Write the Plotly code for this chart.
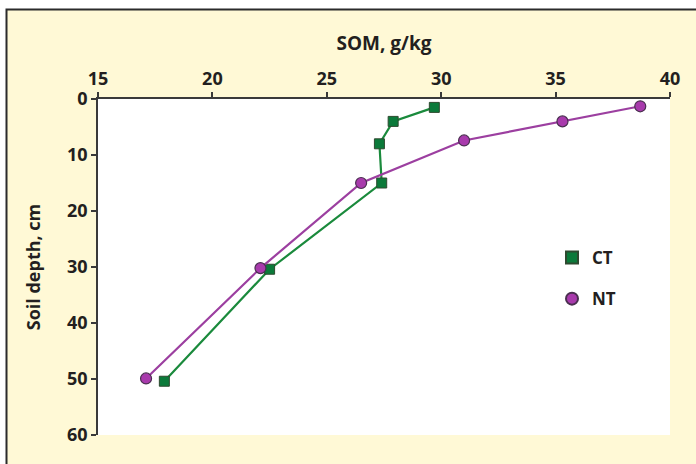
import plotly.graph_objects as go

ct_som = [29.7, 27.9, 27.3, 27.4, 22.5, 17.9]
ct_depth = [1.5, 4, 8, 15, 30.4, 50.4]
nt_som = [38.7, 35.3, 31.0, 26.5, 22.1, 17.1]
nt_depth = [1.3, 4, 7.4, 15, 30.2, 49.9]

x_ticks = [15, 20, 25, 30, 35, 40]
y_ticks = [0, 10, 20, 30, 40, 50, 60]

W, H = 696, 464
ml, mr, mt, mb = 98, 26, 99, 29
pw, ph = W - ml - mr, H - mt - mb

ct_color = "#1a8a3c"
ct_fill = "#0b7a3a"
nt_color = "#9c3fa0"
nt_fill = "#a83aac"

fig = go.Figure()
fig.add_trace(go.Scatter(
    x=ct_som, y=ct_depth, name="CT", mode="lines+markers", showlegend=False,
    line=dict(color=ct_color, width=2.2),
    marker=dict(symbol="square", size=10, color=ct_fill, line=dict(color="#2e4a30", width=1)),
))
fig.add_trace(go.Scatter(
    x=nt_som, y=nt_depth, name="NT", mode="lines+markers", showlegend=False,
    line=dict(color=nt_color, width=2.2),
    marker=dict(symbol="circle", size=11, color=nt_fill, line=dict(color="#4a3050", width=1.2)),
))
# legend entries (markers only)
fig.add_trace(go.Scatter(
    x=[None], y=[None], name="CT", mode="markers", legendgroup="ct",
    marker=dict(symbol="square", size=10, color=ct_fill, line=dict(color="#2e4a30", width=1)),
))
fig.add_trace(go.Scatter(
    x=[None], y=[None], name="NT", mode="markers", legendgroup="nt",
    marker=dict(symbol="circle", size=11, color=nt_fill, line=dict(color="#4a3050", width=1.2)),
))

font_fam = "Open Sans, Lato, sans-serif"

def px_x(p):
    return (p - ml) / pw

def px_y(p):
    return (H - mb - p) / ph

fig.update_layout(
    width=W, height=H,
    margin=dict(l=ml, r=mr, t=mt, b=mb),
    paper_bgcolor="white",
    plot_bgcolor="white",
    font=dict(family=font_fam, color="#231f20"),
    showlegend=True,
    legend=dict(
        x=px_x(552), y=px_y(240), xanchor="left", yanchor="top",
        bgcolor="rgba(0,0,0,0)", font=dict(size=17, family=font_fam, color="#231f20", weight="bold"),
        itemsizing="constant", tracegroupgap=16, itemwidth=30,
    ),
    xaxis=dict(
        range=[15, 40], side="top", tickvals=x_ticks,
        showgrid=False, zeroline=False,
        showline=True, linecolor="#3a3a3a", linewidth=1.5,
        ticks="outside", ticklen=5, tickcolor="#3a3a3a", tickwidth=1.5,
        tickfont=dict(size=18, weight="bold"),
        title=dict(text="SOM, g/kg", font=dict(size=19, weight="bold"), standoff=10),
    ),
    yaxis=dict(
        range=[60, 0], tickvals=y_ticks,
        showgrid=False, zeroline=False,
        showline=True, linecolor="#3a3a3a", linewidth=1.5,
        ticks="outside", ticklen=5, tickcolor="#3a3a3a", tickwidth=1.5,
        tickfont=dict(size=18, weight="bold"),
        title=dict(text="Soil depth, cm", font=dict(size=18, weight="bold"), standoff=22),
    ),
    shapes=[
        dict(type="rect", xref="paper", yref="paper", layer="below",
             x0=px_x(6.5), x1=px_x(710), y0=px_y(480), y1=px_y(9.5),
             fillcolor="#fff9d6", line=dict(color="#2b2b2b", width=2)),
        dict(type="rect", xref="paper", yref="paper", layer="below",
             x0=0, x1=1, y0=0, y1=1, fillcolor="white", line=dict(width=0)),
    ],
)

fig.write_html("out.html", config={"displayModeBar": False},
               post_script="document.body.style.margin='0';")
